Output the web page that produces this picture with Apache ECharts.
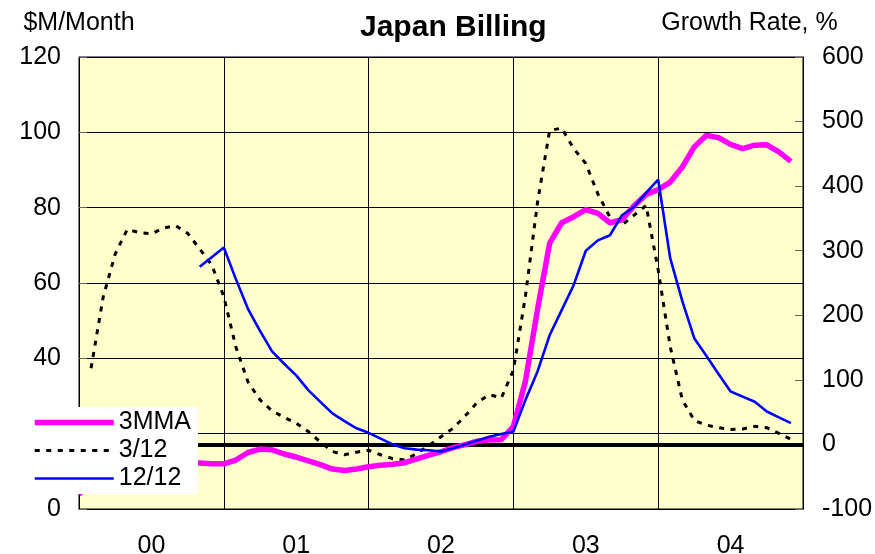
<!DOCTYPE html>
<html>
<head>
<meta charset="utf-8">
<title>Japan Billing</title>
<script src="https://cdn.jsdelivr.net/npm/echarts@6/dist/echarts.min.js"></script>
<style>
  html, body { margin: 0; padding: 0; background: #fff; }
  #chart { width: 875px; height: 554px; }
</style>
</head>
<body>
<div id="chart"></div>
<script>
// tick labels for the year axis and month names used to build categories
const years = ['00', '01', '02', '03', '04', '05']
const monthNames = ['Jan', 'Feb', 'Mar', 'Apr', 'May', 'Jun', 'Jul', 'Aug', 'Sep', 'Oct', 'Nov', 'Dec']

// 3 month moving average, $M/Month (left axis)
const mma3 = [
  3.8, 8, 11, 12.5, 13, 13, 12.8, 12.5, 12.3, 12.2, 12.2, 12.0,
  12.0, 13.0, 15.0, 15.9, 15.7, 14.6, 13.8, 12.8, 11.8, 10.6, 10.2, 10.6,
  11.2, 11.6, 11.9, 12.3, 13.3, 14.3, 15.2, 16.3, 17.1, 18.0, 18.3, 18.4,
  21.9, 34, 53, 70.5, 76, 77.6, 79.5, 78.5, 76, 76.8, 80.5, 83.5,
  84.8, 86.8, 90.8, 96.2, 99.2, 98.6, 96.8, 95.7, 96.6, 96.7, 94.8, 92.3
]

// 3/12 growth rate, % (right axis)
const growth312 = [
  null, 118, 228, 295, 333, 328, 326, 335, 339, 327, 303, 278,
  229, 151, 97, 69, 52, 42, 33, 20, 4, -11, -16, -12,
  -9, -16, -22, -24, -14, -2, 12, 25, 44, 65, 77, 72,
  115, 230, 375, 486, 490, 458, 435, 388, 352, 340, 355, 370,
  270, 151, 69, 37, 30, 26, 23, 24, 28, 26, 17, 8
]

// 12/12 growth rate, % (right axis)
const growth1212 = [
  null, null, null, null, null, null, null, null, null, null, 275, 290,
  305, 256, 210, 176, 144, 125, 107, 84, 66, 48, 36, 25,
  18, 9, 0, -6, -8, -9, -11, -6, 0, 6, 12, 16,
  20, 69, 113, 169, 208, 247, 300, 316, 324, 355, 368, 390,
  410, 288, 222, 164, 137, 109, 82, 74, 66, 51, 42, 33
]

const months = []
years.forEach((y) => {
  monthNames.forEach((m) => {
    if (months.length < 61) months.push(m + '-' + y)
  })
})

const font = 'Liberation Sans, Arial, sans-serif'
const chart = echarts.init(document.getElementById('chart'))

chart.setOption({
  animation: false,
  textStyle: { fontFamily: font, color: '#000' },
  title: {
    text: 'Japan Billing',
    left: 360,
    top: 13,
    padding: 0,
    textStyle: { fontFamily: font, fontSize: 30, fontWeight: 'bold', color: '#000' }
  },
  legend: {
    orient: 'vertical',
    left: 0,
    top: 407,
    z: 20,
    padding: [3, 7, 3, 32],
    itemGap: 3,
    itemWidth: 79,
    itemHeight: 25,
    backgroundColor: '#fff',
    itemStyle: { opacity: 0 },
    lineStyle: { width: 'inherit' },
    textStyle: { fontFamily: font, fontSize: 25, color: '#000' },
    data: ['3MMA', '3/12', '12/12']
  },
  grid: {
    left: 79,
    top: 57,
    right: 72,
    bottom: 45,
    outerBoundsMode: 'none',
    show: true,
    backgroundColor: '#FFFFCC',
    borderColor: '#000',
    borderWidth: 1
  },
  xAxis: {
    type: 'category',
    data: months,
    boundaryGap: false,
    axisLine: { lineStyle: { color: '#000' } },
    axisTick: { show: false },
    axisLabel: {
      interval: (index) => index % 12 === 6,
      formatter: (v) => v.split('-')[1],
      fontFamily: font,
      fontSize: 25,
      color: '#000',
      margin: 25
    },
    splitLine: {
      show: true,
      interval: (index) => index % 12 === 0,
      lineStyle: { color: '#000', width: 1 }
    }
  },
  yAxis: [{
    type: 'value',
    min: 0,
    max: 120,
    interval: 20,
    name: '$M/Month',
    nameGap: 21,
    nameTextStyle: { fontFamily: font, fontSize: 25, color: '#000' },
    axisLine: { show: true, lineStyle: { color: '#000' } },
    axisTick: { show: true, inside: true, length: 8, lineStyle: { color: '#666' } },
    axisLabel: { fontFamily: font, fontSize: 25, color: '#000', margin: 18 },
    splitLine: { show: true, lineStyle: { color: '#000', width: 1 } }
  }, {
    type: 'value',
    min: -100,
    max: 600,
    interval: 100,
    name: 'Growth Rate, %',
    nameGap: 21,
    nameTextStyle: {
      fontFamily: font,
      fontSize: 25,
      color: '#000',
      align: 'center',
      padding: [0, 107, 0, 0]
    },
    axisLine: { show: true, lineStyle: { color: '#000' } },
    axisTick: { show: true, inside: true, length: 8, lineStyle: { color: '#666' } },
    axisLabel: { fontFamily: font, fontSize: 25, color: '#000', margin: 19 },
    splitLine: { show: false }
  }],
  series: [
    {
      name: '3/12',
      type: 'line',
      yAxisIndex: 1,
      data: growth312,
      symbol: 'none',
      lineStyle: { color: '#000', width: 3, type: [5, 6.5] },
      itemStyle: { color: '#000' },
      z: 3,
      markLine: {
        silent: true,
        symbol: 'none',
        z: 2,
        label: { show: false },
        lineStyle: { color: '#000', width: 4, type: 'solid' },
        data: [{ yAxis: 0 }]
      }
    },
    {
      name: '12/12',
      type: 'line',
      yAxisIndex: 1,
      data: growth1212,
      symbol: 'none',
      lineStyle: { color: '#0000FF', width: 2.6 },
      itemStyle: { color: '#0000FF' },
      z: 4
    },
    {
      name: '3MMA',
      type: 'line',
      yAxisIndex: 0,
      data: mma3,
      symbol: 'none',
      lineStyle: { color: '#FF00FF', width: 5.5 },
      itemStyle: { color: '#FF00FF' },
      z: 3
    }
  ]
})

window.addEventListener('resize', () => chart.resize())
</script>
</body>
</html>
